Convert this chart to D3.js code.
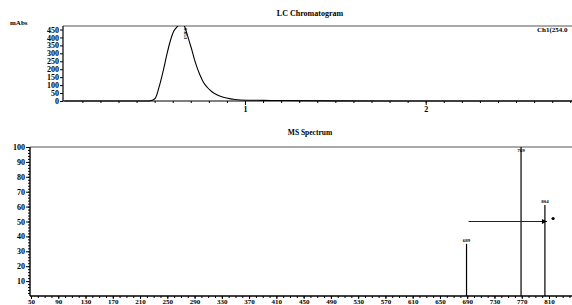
<!DOCTYPE html>
<html>
<head>
<meta charset="utf-8">
<script src="https://cdn.jsdelivr.net/npm/d3@7/dist/d3.min.js"></script>
<style>
body { margin: 0; background: #fff; }
svg { display: block; }
text { font-family: "Liberation Serif", "DejaVu Serif", serif; font-weight: bold; fill: #000; }
</style>
</head>
<body>
<script>
var width = 572
var height = 305

// LC trace (time in min, mAbs)
var lc_time = [0, 0.3, 0.47, 0.485, 0.504, 0.525, 0.548, 0.567, 0.587, 0.606, 0.624, 0.638, 0.651, 0.665, 0.679, 0.693, 0.707, 0.72, 0.734, 0.752, 0.769, 0.792, 0.817, 0.85, 0.88, 0.93, 0.974, 1.1, 1.2, 1.5, 2.0, 2.9]
var lc_abs  = [0, 0, 0, 4, 18, 90, 193, 290, 379, 440, 466, 480, 485, 470, 422, 370, 317, 262, 213, 160, 120, 85, 58, 36, 23, 12, 6, 4, 3, 1, 0, 0]
var lc_y_ticks = [0, 50, 100, 150, 200, 250, 300, 350, 400, 450]
var lc_x_ticks = [1, 2]
var lc_peak = "0.653"

// MS peaks (m/z, relative intensity)
var ms_mz = [689, 769, 804]
var ms_int = [35, 100, 61]
var ms_y_ticks = [10, 20, 30, 40, 50, 60, 70, 80, 90, 100]
var ms_x_ticks = [50, 90, 130, 170, 210, 250, 290, 330, 370, 410, 450, 490, 530, 570, 610, 650, 690, 730, 770, 810]

var svg = d3.select("body").append("svg")
.attr("width", width)
.attr("height", height)

// ---------- LC chromatogram ----------
var x1 = d3.scaleLinear().domain([0, 2]).range([64.3, 425.7])
var y1 = d3.scaleLinear().domain([0, 450]).range([101, 29.5])

svg.append("defs").append("clipPath").attr("id", "lcclip")
.append("rect").attr("x", 63).attr("y", 26).attr("width", width - 63).attr("height", 76)

svg.append("text").attr("x", 310).attr("y", 16).attr("text-anchor", "middle")
.style("font-size", "8px").text("LC Chromatogram")
svg.append("text").attr("x", 10).attr("y", 25).style("font-size", "7px").text("mAbs")
svg.append("text").attr("x", 537).attr("y", 32).style("font-size", "7px").text("Ch1(254.0")

svg.append("line").attr("x1", 63).attr("x2", width).attr("y1", 26).attr("y2", 26)
.attr("stroke", "#555").attr("stroke-width", 1)

svg.append("g")
.attr("transform", "translate(63,0)")
.call(d3.axisLeft(y1).tickValues(lc_y_ticks).tickSize(3).tickPadding(1))
.call(function(g) { g.select(".domain").remove() })
.selectAll("text").style("font-size", "8px")

svg.append("line").attr("x1", 63).attr("x2", 63).attr("y1", 26).attr("y2", 101)
.attr("stroke", "#000").attr("stroke-width", 1.2)

svg.append("g")
.attr("transform", "translate(0,101)")
.call(d3.axisBottom(x1).tickValues(d3.range(1, 29).map(function(d) { return d / 10 })).tickSize(2).tickFormat(""))
.call(function(g) { g.select(".domain").remove() })

svg.append("g")
.attr("transform", "translate(0,101)")
.call(d3.axisBottom(x1).tickValues(lc_x_ticks).tickSize(4).tickPadding(1).tickFormat(d3.format("d")))
.call(function(g) { g.select(".domain").remove() })
.selectAll("text").style("font-size", "8px")

svg.append("line").attr("x1", 63).attr("x2", width).attr("y1", 101).attr("y2", 101)
.attr("stroke", "#000").attr("stroke-width", 1.2)

var lc_data = lc_time.map(function(t, i) { return [t, lc_abs[i]] })
svg.append("path")
.datum(lc_data)
.attr("clip-path", "url(#lcclip)")
.attr("fill", "none")
.attr("stroke", "#000")
.attr("stroke-width", 1.1)
.attr("d", d3.line().curve(d3.curveMonotoneX)
  .x(function(d) { return x1(d[0]) })
  .y(function(d) { return y1(d[1]) }))

svg.append("text")
.attr("transform", "translate(" + (x1(0.651) + 2) + ",28) rotate(90)")
.style("font-size", "5px").text(lc_peak)

// ---------- MS spectrum ----------
var x2 = d3.scaleLinear().domain([50, 810]).range([31, 549])
var y2 = d3.scaleLinear().domain([0, 100]).range([296, 147])

svg.append("text").attr("x", 310).attr("y", 135).attr("text-anchor", "middle")
.style("font-size", "7.5px").text("MS Spectrum")

svg.append("line").attr("x1", 30).attr("x2", width).attr("y1", 147).attr("y2", 147)
.attr("stroke", "#555").attr("stroke-width", 1)

svg.append("g")
.attr("transform", "translate(30,0)")
.call(d3.axisLeft(y2).tickValues(d3.range(2, 100, 2)).tickSize(2).tickFormat(""))
.call(function(g) { g.select(".domain").remove() })

svg.append("g")
.attr("transform", "translate(30,0)")
.call(d3.axisLeft(y2).tickValues(ms_y_ticks).tickSize(4).tickPadding(1))
.call(function(g) { g.select(".domain").remove() })
.selectAll("text").style("font-size", "8px")

svg.append("line").attr("x1", 30).attr("x2", 30).attr("y1", 147).attr("y2", 296)
.attr("stroke", "#000").attr("stroke-width", 1.4)

svg.append("g")
.attr("transform", "translate(0,296)")
.call(d3.axisBottom(x2).tickValues(d3.range(60, 860, 10)).tickSize(2).tickFormat(""))
.call(function(g) { g.select(".domain").remove() })

svg.append("g")
.attr("transform", "translate(0,296)")
.call(d3.axisBottom(x2).tickValues(ms_x_ticks).tickSize(3))
.call(function(g) { g.select(".domain").remove() })
.selectAll("text").attr("y", 8).attr("dy", null).style("font-size", "7px")

svg.append("line").attr("x1", 30).attr("x2", width).attr("y1", 296).attr("y2", 296)
.attr("stroke", "#000").attr("stroke-width", 1.4)

svg.selectAll(".tick line").attr("stroke", "#000")
svg.selectAll(".tick text").attr("fill", "#000")

var peaks = svg.append("g")
peaks.selectAll("line")
.data(ms_mz)
.enter().append("line")
.attr("x1", function(d) { return x2(d) })
.attr("x2", function(d) { return x2(d) })
.attr("y1", y2(0))
.attr("y2", function(d, i) { return y2(ms_int[i]) })
.attr("stroke", "#000")
.attr("stroke-width", 1.2)

peaks.selectAll("text")
.data(ms_mz)
.enter().append("text")
.attr("x", function(d) { return x2(d) })
.attr("y", function(d, i) { return ms_int[i] == 100 ? y2(100) + 5 : y2(ms_int[i]) - 2 })
.attr("text-anchor", "middle")
.style("font-size", "5px")
.text(function(d) { return d })

// arrow pointing to the 804 peak
svg.append("defs").append("marker")
.attr("id", "head").attr("viewBox", "0 0 10 10").attr("refX", 10).attr("refY", 5)
.attr("markerWidth", 9).attr("markerHeight", 5).attr("markerUnits", "userSpaceOnUse").attr("orient", "auto")
.append("path").attr("d", "M0,0L10,5L0,10z").attr("fill", "#000")

svg.append("line")
.attr("x1", x2(692)).attr("x2", x2(804) + 2)
.attr("y1", y2(50)).attr("y2", y2(50))
.attr("stroke", "#222").attr("stroke-width", 1)
.attr("marker-end", "url(#head)")

svg.append("circle")
.attr("cx", x2(816)).attr("cy", y2(52)).attr("r", 1.6).attr("fill", "#000")
</script>
</body>
</html>
